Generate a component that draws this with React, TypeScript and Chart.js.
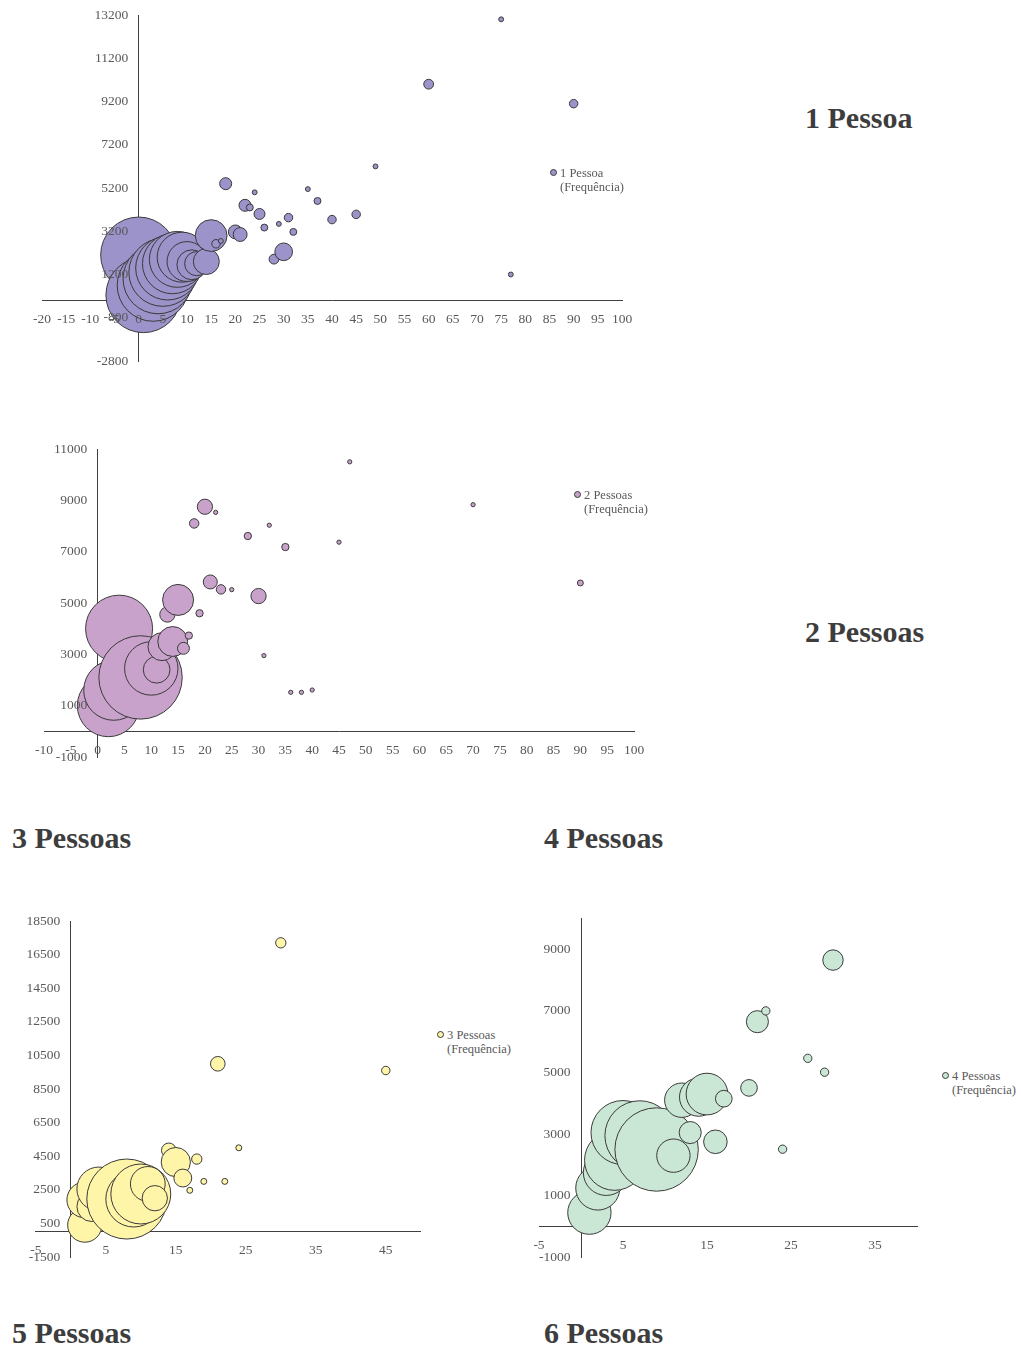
import React, { useEffect, useRef } from "react";
import { Chart, registerables } from "chart.js";

Chart.register(...registerables);

const SERIF = "'Liberation Serif', 'Times New Roman', Times, serif";

// 1 Pessoa
const p1X = [0, 1, 3, 4, 5, 6, 7, 8, 9, 10, 11, 12, 14, 15, 16, 17, 18, 20, 21, 22, 23, 24, 25, 26, 28, 29, 30, 31, 32, 35, 37, 40, 45, 49, 60, 75, 77, 90];
const p1Y = [2100, 250, 700, 1000, 1300, 1500, 1700, 1900, 2000, 1800, 1650, 1700, 1800, 3000, 2620, 2750, 5400, 3170, 3050, 4400, 4300, 5000, 4000, 3370, 1910, 3540, 2250, 3830, 3170, 5150, 4600, 3740, 3980, 6200, 10000, 13000, 1200, 9100];
const p1Freq = [240, 235, 215, 203, 192, 170, 150, 130, 104, 66, 37, 24, 28, 42, 3, 1, 6, 8, 8, 6, 2, 1, 5, 2, 4, 1, 13, 3, 2, 1, 2, 3, 3, 1, 4, 1, 1, 3];
const p1XTicks = [-20, -15, -10, -5, 0, 5, 10, 15, 20, 25, 30, 35, 40, 45, 50, 55, 60, 65, 70, 75, 80, 85, 90, 95, 100];
const p1YTicks = [-2800, -800, 1200, 3200, 5200, 7200, 9200, 11200, 13200];

// 2 Pessoas
const p2X = [2, 3, 4, 8, 10, 11, 12, 13, 14, 15, 16, 17, 18, 19, 20, 21, 22, 23, 25, 28, 30, 31, 32, 35, 36, 38, 40, 45, 47, 70, 90];
const p2Y = [1000, 1600, 4000, 2100, 2450, 2400, 3300, 4550, 3500, 5120, 3235, 3730, 8100, 4600, 8750, 5820, 8530, 5530, 5520, 7610, 5270, 2950, 8030, 7180, 1520, 1520, 1610, 7370, 10500, 8830, 5780];
const p2Freq = [216, 202, 252, 390, 160, 40, 44, 13, 50, 54, 8, 3, 5, 3, 13, 11, 1, 5, 1, 3, 13, 1, 1, 3, 1, 1, 1, 1, 1, 1, 2];
const p2XTicks = [-10, -5, 0, 5, 10, 15, 20, 25, 30, 35, 40, 45, 50, 55, 60, 65, 70, 75, 80, 85, 90, 95, 100];
const p2YTicks = [-1000, 1000, 3000, 5000, 7000, 9000, 11000];

// 3 Pessoas
const p3X = [2, 2, 3, 4, 8, 9, 10, 11, 12, 14, 15, 16, 17, 18, 19, 21, 22, 24, 30, 45];
const p3Y = [400, 1900, 1500, 2550, 1950, 1950, 2250, 2850, 2000, 4850, 4150, 3200, 2470, 4330, 3000, 10000, 3000, 5000, 17200, 9600];
const p3Freq = [33, 36, 25, 54, 180, 88, 101, 34, 18, 6, 24, 9, 1, 3, 1, 6, 1, 1, 3, 2];
const p3XTicks = [-5, 5, 15, 25, 35, 45];
const p3YTicks = [-1500, 500, 2500, 4500, 6500, 8500, 10500, 12500, 14500, 16500, 18500];

// 4 Pessoas
const p4X = [1, 2, 3, 4, 5, 7, 9, 11, 12, 13, 14, 15, 16, 17, 20, 21, 22, 24, 27, 29, 30];
const p4Y = [450, 1250, 1750, 2150, 3050, 2950, 2500, 2300, 4100, 3050, 4200, 4300, 2750, 4150, 4500, 6650, 7000, 2510, 5460, 5010, 8650];
const p4Freq = [27, 28, 30, 52, 59, 70, 100, 16, 17, 7, 21, 25, 8, 4, 4, 7, 1, 1, 1, 1, 6];
const p4XTicks = [-5, 5, 15, 25, 35];
const p4YTicks = [-1000, 1000, 3000, 5000, 7000, 9000];

type Pad = { left: number; top: number; right: number; bottom: number };

type PanelProps = {
  label: string;
  xs: number[];
  ys: number[];
  freq: number[];
  xTicks: number[];
  yTicks: number[];
  xMin: number;
  xMax: number;
  yMin: number;
  yMax: number;
  color: string;
  maxRadius: number;
  left: number;
  top: number;
  width: number;
  height: number;
  padding: Pad;
};

// axes sit on the crossing point and must not claim any layout space
const flatAxis = (vertical: boolean) => (axis: any) => {
  if (vertical) axis.width = 0;
  else axis.height = 0;
  axis.paddingTop = 0;
  axis.paddingBottom = 0;
  axis.paddingLeft = 0;
  axis.paddingRight = 0;
};

const LABEL_GAP = 10.5;

function BubblePanel(p: PanelProps) {
  const ref = useRef<HTMLCanvasElement | null>(null);

  useEffect(() => {
    const canvas = ref.current;
    if (!canvas) return;
    const fMax = Math.max(...p.freq);
    const points = p.xs.map((x, i) => ({
      x,
      y: p.ys[i],
      r: p.maxRadius * Math.sqrt(p.freq[i] / fMax),
    }));
    const tickFont = { family: SERIF, size: 13.5 };
    const plotWidth = p.width - p.padding.left - p.padding.right;
    const unitsPerPx = (p.xMax - p.xMin) / plotWidth;
    const noGrid = { display: false, drawTicks: false };
    const axisLine = { display: true, color: "#404040", width: 1 };
    const plain = (v: any) => String(v);

    const chart = new Chart(canvas, {
      type: "bubble",
      data: {
        datasets: [
          {
            label: p.label,
            data: points,
            backgroundColor: p.color,
            borderColor: "#3a3a3a",
            borderWidth: 1,
            clip: false,
          } as any,
        ],
      },
      options: {
        animation: false,
        responsive: false,
        events: [],
        layout: { padding: p.padding, autoPadding: false },
        plugins: { legend: { display: false }, tooltip: { enabled: false } },
        scales: {
          // axis lines, under the bubbles
          x: {
            type: "linear",
            min: p.xMin,
            max: p.xMax,
            position: { y: 0 } as any,
            grid: noGrid,
            border: axisLine,
            ticks: { display: false },
            afterFit: flatAxis(false),
          },
          y: {
            type: "linear",
            min: p.yMin,
            max: p.yMax,
            position: { x: 0 } as any,
            grid: noGrid,
            border: axisLine,
            ticks: { display: false },
            afterFit: flatAxis(true),
          },
          // tick labels, drawn over the bubbles
          xLabels: {
            type: "linear",
            min: p.xMin,
            max: p.xMax,
            position: { y: 0 } as any,
            grid: noGrid,
            border: { display: false },
            ticks: {
              font: tickFont,
              color: "#595959",
              padding: 11,
              autoSkip: false,
              maxRotation: 0,
              callback: plain,
              z: 1,
            },
            afterBuildTicks: (axis: any) => {
              axis.ticks = p.xTicks.map((v) => ({ value: v }));
            },
            afterFit: flatAxis(false),
          },
          yLabels: {
            type: "linear",
            min: p.yMin,
            max: p.yMax,
            position: { x: -LABEL_GAP * unitsPerPx } as any,
            grid: noGrid,
            border: { display: false },
            ticks: {
              font: tickFont,
              color: "#595959",
              autoSkip: false,
              callback: plain,
              z: 1,
            },
            afterBuildTicks: (axis: any) => {
              axis.ticks = p.yTicks.map((v) => ({ value: v }));
            },
            afterFit: flatAxis(true),
          },
        } as any,
      },
    });
    return () => chart.destroy();
  }, []);

  return (
    <canvas
      ref={ref}
      width={p.width}
      height={p.height}
      style={{ position: "absolute", left: p.left, top: p.top, width: p.width, height: p.height }}
    />
  );
}

function Key({ left, top, color, name }: { left: number; top: number; color: string; name: string }) {
  return (
    <div
      style={{
        position: "absolute",
        left,
        top,
        fontFamily: SERIF,
        fontSize: 12.5,
        lineHeight: "14px",
        color: "#595959",
        whiteSpace: "nowrap",
      }}
    >
      <span
        style={{
          position: "absolute",
          left: -10.5,
          top: 2.5,
          width: 7,
          height: 7,
          borderRadius: "50%",
          background: color,
          border: "1px solid #3a3a3a",
          boxSizing: "border-box",
        }}
      />
      <div>{name}</div>
      <div>(Frequência)</div>
    </div>
  );
}

function Heading({ left, top, text }: { left: number; top: number; text: string }) {
  return (
    <div
      style={{
        position: "absolute",
        left,
        top,
        fontFamily: SERIF,
        fontWeight: "bold",
        fontSize: 30,
        lineHeight: "30px",
        color: "#3d3d3d",
        whiteSpace: "nowrap",
      }}
    >
      {text}
    </div>
  );
}

const C1 = "#9b93c9";
const C2 = "#c8a2cb";
const C3 = "#fff5a8";
const C4 = "#cae6d4";

export default function App() {
  return (
    <div
      style={{
        position: "absolute",
        left: 0,
        top: 0,
        width: 1021,
        height: 1346,
        overflow: "hidden",
        background: "#ffffff",
      }}
    >
      <BubblePanel
        label="1 Pessoa (Frequência)"
        xs={p1X}
        ys={p1Y}
        freq={p1Freq}
        xTicks={p1XTicks}
        yTicks={p1YTicks}
        xMin={-20}
        xMax={100}
        yMin={-2800}
        yMax={13200}
        color={C1}
        maxRadius={38}
        left={0}
        top={0}
        width={650}
        height={380}
        padding={{ left: 42, top: 15, right: 28, bottom: 19 }}
      />
      <Key left={560} top={166} color={C1} name="1 Pessoa" />
      <Heading left={805} top={103} text="1 Pessoa" />

      <BubblePanel
        label="2 Pessoas (Frequência)"
        xs={p2X}
        ys={p2Y}
        freq={p2Freq}
        xTicks={p2XTicks}
        yTicks={p2YTicks}
        xMin={-10}
        xMax={100}
        yMin={-1000}
        yMax={11000}
        color={C2}
        maxRadius={41.7}
        left={0}
        top={420}
        width={660}
        height={360}
        padding={{ left: 44, top: 29, right: 26, bottom: 23 }}
      />
      <Key left={584} top={488} color={C2} name="2 Pessoas" />
      <Heading left={805} top={617} text="2 Pessoas" />

      <Heading left={12} top={823} text="3 Pessoas" />
      <Heading left={544} top={823} text="4 Pessoas" />

      <BubblePanel
        label="3 Pessoas (Frequência)"
        xs={p3X}
        ys={p3Y}
        freq={p3Freq}
        xTicks={p3XTicks}
        yTicks={p3YTicks}
        xMin={-5}
        xMax={50}
        yMin={-1500}
        yMax={18500}
        color={C3}
        maxRadius={40}
        left={0}
        top={900}
        width={430}
        height={380}
        padding={{ left: 35.8, top: 21, right: 9.2, bottom: 23 }}
      />
      <Key left={447} top={1028} color={C3} name="3 Pessoas" />

      <BubblePanel
        label="4 Pessoas (Frequência)"
        xs={p4X}
        ys={p4Y}
        freq={p4Freq}
        xTicks={p4XTicks}
        yTicks={p4YTicks}
        xMin={-5}
        xMax={40}
        yMin={-1000}
        yMax={10000}
        color={C4}
        maxRadius={41.7}
        left={520}
        top={900}
        width={420}
        height={380}
        padding={{ left: 19, top: 18.5, right: 23, bottom: 22.7 }}
      />
      <Key left={952} top={1069} color={C4} name="4 Pessoas" />

      <Heading left={12} top={1318} text="5 Pessoas" />
      <Heading left={544} top={1318} text="6 Pessoas" />
    </div>
  );
}
